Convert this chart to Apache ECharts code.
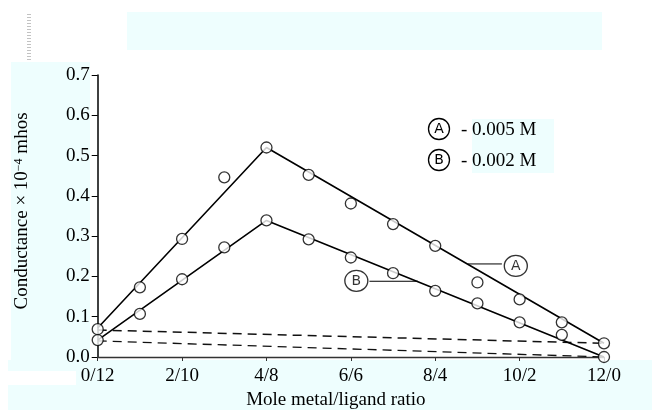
<!DOCTYPE html>
<html><head><meta charset="utf-8">
<script src="https://cdn.jsdelivr.net/npm/echarts@6/dist/echarts.min.js"></script>
<style>html,body{margin:0;padding:0;background:#fff}#c{width:652px;height:410px}</style>
</head><body><div id="c"></div>
<script>
// ---- data ----
const xPoints = [0,1,2,3,4,5,6,7,8,9,10,11,12];
const seriesA = [0.069,0.173,0.293,0.446,0.520,0.452,0.381,0.330,0.276,0.185,0.143,0.086,0.034];
const seriesB = [0.042,0.107,0.193,0.272,0.339,0.292,0.247,0.208,0.164,0.133,0.086,0.055,0.000];
const fitAx = [0,4,12], fitAy = [0.072,0.520,0.034];
const fitBx = [0,4,12], fitBy = [0.042,0.339,0.000];
const dashHiX = [0,12], dashHiY = [0.067,0.034];
const dashLoX = [0,12], dashLoY = [0.040,0.000];
const xTickValues = [0,2,4,6,8,10,12];
const yTickLabels = ['0.0','0.1','0.2','0.3','0.4','0.5','0.6','0.7'];
const legendLetters = ['A','B'];
const legendTexts = ['- 0.005 M','- 0.002 M'];
// annotation anchors (data coords): circle, leader start, leader end
const annA = {circle:[9.91,0.226], lead:[[8.77,0.231],[9.58,0.231]]};
const annB = {circle:[6.13,0.189], lead:[[6.44,0.188],[7.59,0.188]]};

const zip = (xs,ys)=>xs.map((x,i)=>[x,ys[i]]);
const cyan = '#EEFEFE';
const serif = 'Liberation Serif';
const FS = 19;

const chart = echarts.init(document.getElementById('c'));
const circStyle = {color:'#fff', borderColor:'#000', borderWidth:1.3};
const annLabel = {show:true, position:'inside', formatter:p=>p.data.t, fontFamily:'DejaVu Sans', fontSize:14, color:'#000'};

chart.setOption({
  backgroundColor:'#fff',
  animation:false,
  grid:{left:97.7, right:48, top:75, bottom:53, containLabel:false, outerBoundsMode:'none'},
  xAxis:{
    type:'value', min:0, max:12, interval:2,
    name:'Mole metal/ligand ratio', nameLocation:'middle', nameGap:33,
    nameTextStyle:{fontFamily:serif, fontSize:FS, color:'#000', padding:[0,30,0,0]},
    axisLine:{lineStyle:{color:'#333', width:1.3}},
    axisTick:{show:true, length:4, lineStyle:{color:'#333'}},
    axisLabel:{margin:10, fontFamily:serif, fontSize:FS, color:'#000', formatter:v=>xTickValues.includes(v)?`${v}/${12-v}`:''},
    splitLine:{show:false}
  },
  yAxis:{
    type:'value', min:0, max:0.7, interval:0.1,
    name:'{a|Conductance × 10}{s|−4}{a| mhos}', nameLocation:'middle', nameGap:66,
    nameTextStyle:{fontFamily:serif, fontSize:FS, color:'#000', padding:[0,0,0,10],
      rich:{a:{fontFamily:serif,fontSize:FS,color:'#000'}, s:{fontFamily:serif,fontSize:12,color:'#000',verticalAlign:'top',padding:[0,0,7,0]}}},
    axisLine:{show:true, lineStyle:{color:'#000', width:1.5}},
    axisTick:{show:true, length:6, lineStyle:{color:'#000'}},
    axisLabel:{margin:8, fontFamily:serif, fontSize:FS, color:'#000', formatter:(v)=>yTickLabels[Math.round(v*10)]},
    splitLine:{show:false}
  },
  graphic:[
    {type:'rect', z:-10, shape:{x:127,y:12,width:475,height:38}, style:{fill:cyan}},
    {type:'rect', z:-10, shape:{x:11,y:62,width:79,height:300}, style:{fill:cyan}},
    {type:'rect', z:-10, shape:{x:8,y:360,width:644,height:50}, style:{fill:cyan}},
    {type:'rect', z:-9, shape:{x:8,y:371,width:68,height:14}, style:{fill:'#fff'}},
    {type:'rect', z:-10, shape:{x:472,y:119,width:82,height:54}, style:{fill:cyan}},
    {type:'line', z:-5, shape:{x1:29,y1:14,x2:29,y2:62}, style:{stroke:'#999', lineWidth:4, lineDash:[1,2], opacity:0.6}},
    ...legendLetters.flatMap((L,i)=>[
      {type:'circle', shape:{cx:439,cy:129+i*31,r:10.5}, style:{fill:'#fff',stroke:'#000',lineWidth:1.3}},
      {type:'text', x:439, y:129+i*31, style:{text:L, font:'14px DejaVu Sans', fill:'#000', align:'center', verticalAlign:'middle'}},
      {type:'text', x:461, y:130+i*31, style:{text:legendTexts[i], font:FS+'px Liberation Serif', fill:'#000', align:'left', verticalAlign:'middle'}}
    ])
  ],
  series:[
    {type:'line', data:zip(dashHiX,dashHiY), symbol:'none', lineStyle:{color:'#111',width:1.5,type:[9,6]}, z:2},
    {type:'line', data:zip(dashLoX,dashLoY), symbol:'none', lineStyle:{color:'#111',width:1.3,type:[9,6]}, z:2},
    {type:'line', data:zip(fitAx,fitAy), symbol:'none', lineStyle:{color:'#000',width:1.6}, z:3},
    {type:'line', data:zip(fitBx,fitBy), symbol:'none', lineStyle:{color:'#000',width:1.6}, z:3},
    {type:'line', data:annA.lead, symbol:'none', lineStyle:{color:'#000',width:1}, z:3},
    {type:'line', data:annB.lead, symbol:'none', lineStyle:{color:'#000',width:1}, z:3},
    {type:'scatter', data:zip(xPoints,seriesA), symbol:'circle', symbolSize:11, itemStyle:circStyle, z:4},
    {type:'scatter', data:zip(xPoints,seriesB), symbol:'circle', symbolSize:11, itemStyle:circStyle, z:4},
    {type:'scatter', data:[{value:annA.circle,t:'A'},{value:annB.circle,t:'B'}], symbol:'circle', symbolSize:[23,21], itemStyle:circStyle, label:annLabel, z:5}
  ]
});
</script></body></html>
